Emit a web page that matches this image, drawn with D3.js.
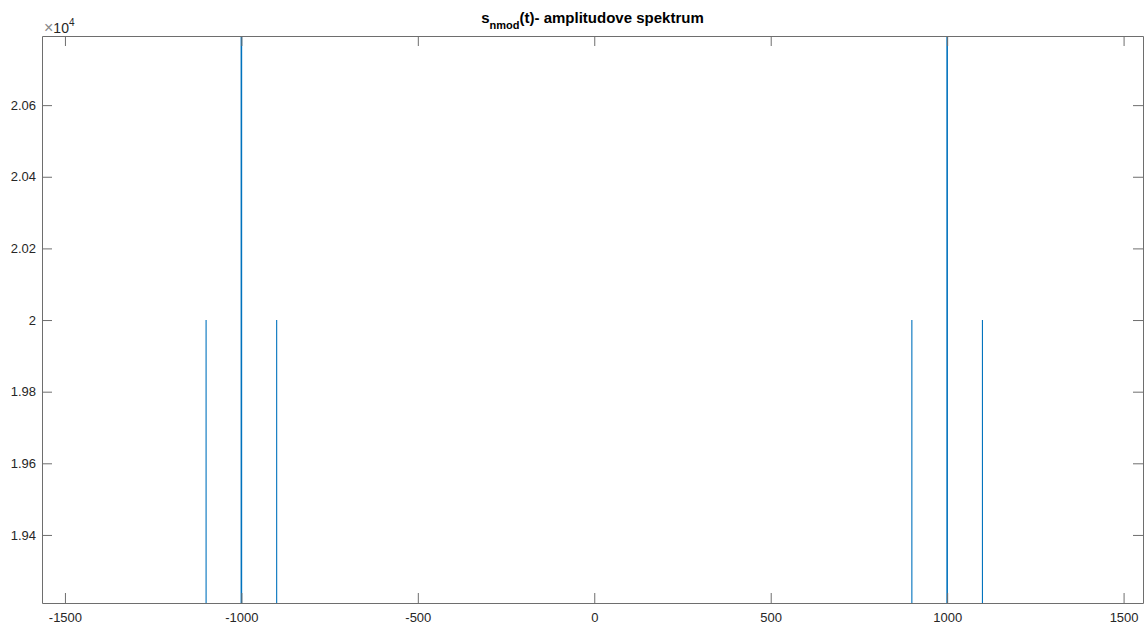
<!DOCTYPE html>
<html>
<head>
<meta charset="utf-8">
<script src="https://cdn.jsdelivr.net/npm/d3@7"></script>
<style>
  body { margin: 0; background: #fff; }
  text { font-family: "Liberation Sans", Arial, sans-serif; }
</style>
</head>
<body>
<div id="chart"></div>
<script>
// frekvence a amplitudy spektra
const freqs = [-1100, -1000, -900, 900, 1000, 1100]
const amps = [20000, 40000, 20000, 20000, 40000, 20000]
const xTicks = [-1500, -1000, -500, 0, 500, 1000, 1500]
const yTicks = [19400, 19600, 19800, 20000, 20200, 20400, 20600]
const xDomain = [-1565, 1555]
const yDomain = [19210, 20793]

const width = 1146
const height = 625
const margin = {top: 36, right: 3, bottom: 22, left: 42}

const svg = d3.select('#chart').append('svg')
    .attr('width', width)
    .attr('height', height)

const x = d3.scaleLinear()
    .domain(xDomain)
    .range([margin.left, width - margin.right])
const y = d3.scaleLinear()
    .domain(yDomain)
    .range([height - margin.bottom, margin.top])

svg.append('clipPath').attr('id', 'clip')
    .append('rect')
    .attr('x', margin.left).attr('y', margin.top)
    .attr('width', width - margin.left - margin.right)
    .attr('height', height - margin.top - margin.bottom)

// spektralni cary
svg.append('g')
    .attr('clip-path', 'url(#clip)')
    .selectAll('line')
    .data(freqs)
    .join('line')
    .attr('x1', d => x(d)).attr('x2', d => x(d))
    .attr('y1', y(yDomain[0]))
    .attr('y2', (d, i) => y(amps[i]))
    .attr('stroke', '#0072BD')
    .attr('stroke-width', (d, i) => amps[i] > 30000 ? 1.6 : 1.1)

const tickLen = 10
const axisColor = '#6e6e6e'
const labelColor = '#262626'
const fmtX = d => d < 0 ? '-' + Math.abs(d) : String(d)

// osy - ticky dovnitr, na vsech ctyrech stranach
const bottomAxis = d3.axisBottom(x).tickValues(xTicks).tickSizeInner(-tickLen).tickSizeOuter(0).tickPadding(10)
    .tickFormat(fmtX)
const topAxis = d3.axisTop(x).tickValues(xTicks).tickSizeInner(-tickLen).tickSizeOuter(0).tickFormat('')
const leftAxis = d3.axisLeft(y).tickValues(yTicks).tickSizeInner(-tickLen).tickSizeOuter(0).tickPadding(6)
    .tickFormat(d => d3.format('~g')(d / 1e4))
const rightAxis = d3.axisRight(y).tickValues(yTicks).tickSizeInner(-tickLen).tickSizeOuter(0).tickFormat('')

const styleAxis = g => {
    g.select('.domain').attr('stroke', axisColor)
    g.selectAll('.tick line').attr('stroke', axisColor)
    g.selectAll('.tick text').attr('fill', labelColor).attr('font-size', 13)
}

svg.append('g').attr('transform', `translate(0,${height - margin.bottom})`).call(bottomAxis).call(styleAxis)
svg.append('g').attr('transform', `translate(0,${margin.top})`).call(topAxis).call(styleAxis)
svg.append('g').attr('transform', `translate(${margin.left},0)`).call(leftAxis).call(styleAxis)
svg.append('g').attr('transform', `translate(${width - margin.right},0)`).call(rightAxis).call(styleAxis)

// exponent
const expo = svg.append('text')
    .attr('x', margin.left + 2).attr('y', margin.top - 3)
    .attr('font-size', 14).attr('fill', labelColor)
expo.append('tspan').attr('fill', '#888').attr('font-size', 16).text('\u00d7')
expo.append('tspan').text('10')
expo.append('tspan').attr('dy', -7).attr('font-size', 10).text('4')

// nadpis
const title = svg.append('text')
    .attr('x', (margin.left + width - margin.right) / 2)
    .attr('y', 23)
    .attr('text-anchor', 'middle')
    .attr('font-size', 15)
    .attr('font-weight', 'bold')
    .attr('fill', '#000')
title.append('tspan').text('s')
title.append('tspan').attr('dy', 6).attr('font-size', 11).text('nmod')
title.append('tspan').attr('dy', -6).text('(t)- amplitudove spektrum')
</script>
</body>
</html>
